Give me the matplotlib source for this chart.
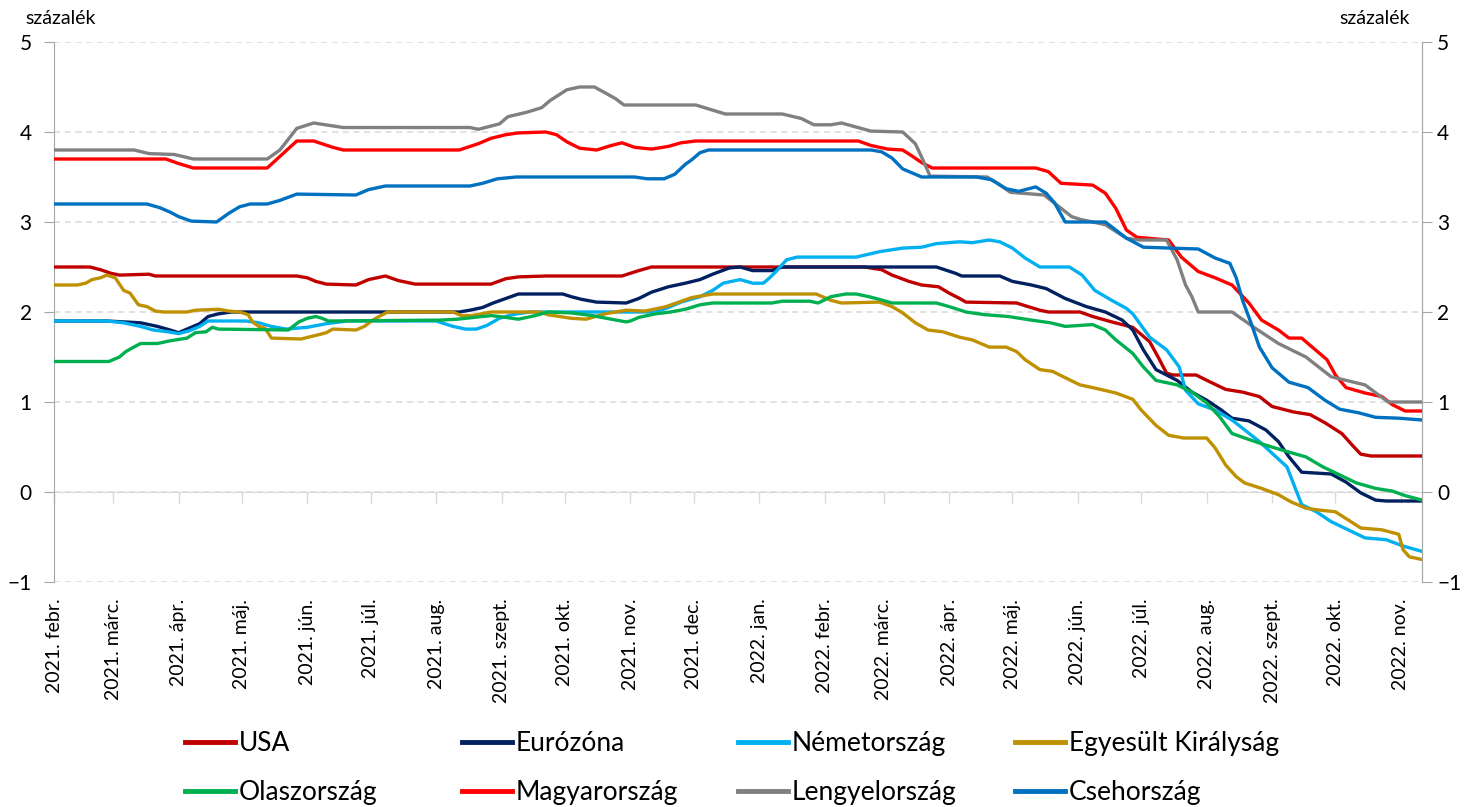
import matplotlib
matplotlib.use("Agg")
import matplotlib.pyplot as plt
import matplotlib.dates as mdates
from matplotlib.ticker import FuncFormatter, NullFormatter
import pandas as pd

plt.rcParams['font.family'] = ['Lato', 'DejaVu Sans']

# ---- data (percent) ----
usa = [("2021-02-01", 2.5), ("2021-02-18", 2.5), ("2021-02-23", 2.47), ("2021-02-28", 2.43),
       ("2021-03-04", 2.41), ("2021-03-18", 2.42), ("2021-03-21", 2.4), ("2021-05-27", 2.4),
       ("2021-06-01", 2.38), ("2021-06-05", 2.34), ("2021-06-10", 2.31), ("2021-06-24", 2.3),
       ("2021-06-30", 2.36), ("2021-07-08", 2.4), ("2021-07-14", 2.35), ("2021-07-22", 2.31),
       ("2021-08-27", 2.31), ("2021-09-03", 2.37), ("2021-09-09", 2.39), ("2021-09-22", 2.4),
       ("2021-10-28", 2.4), ("2021-11-05", 2.46), ("2021-11-11", 2.5), ("2022-02-20", 2.5),
       ("2022-02-28", 2.47), ("2022-03-05", 2.41), ("2022-03-13", 2.34), ("2022-03-19", 2.3),
       ("2022-03-27", 2.28), ("2022-04-01", 2.21), ("2022-04-06", 2.15), ("2022-04-09", 2.11),
       ("2022-05-03", 2.1), ("2022-05-07", 2.07), ("2022-05-14", 2.02), ("2022-05-18", 2.0),
       ("2022-06-02", 2.0), ("2022-06-08", 1.95), ("2022-06-17", 1.89), ("2022-06-27", 1.83),
       ("2022-07-05", 1.67), ("2022-07-09", 1.5), ("2022-07-13", 1.32), ("2022-07-16", 1.3),
       ("2022-07-27", 1.3), ("2022-08-02", 1.23), ("2022-08-10", 1.14), ("2022-08-18", 1.11),
       ("2022-08-26", 1.06), ("2022-09-01", 0.95), ("2022-09-11", 0.89), ("2022-09-19", 0.86),
       ("2022-09-26", 0.77), ("2022-10-04", 0.65), ("2022-10-09", 0.52), ("2022-10-13", 0.42),
       ("2022-10-18", 0.4), ("2022-11-11", 0.4)]

euro = [("2021-02-01", 1.9), ("2021-02-26", 1.9), ("2021-03-06", 1.89), ("2021-03-14", 1.88),
        ("2021-03-22", 1.84), ("2021-03-28", 1.8), ("2021-04-01", 1.77), ("2021-04-06", 1.82),
        ("2021-04-11", 1.87), ("2021-04-15", 1.95), ("2021-04-20", 1.98), ("2021-04-26", 2.0),
        ("2021-08-12", 2.0), ("2021-08-17", 2.02), ("2021-08-23", 2.05), ("2021-08-28", 2.1),
        ("2021-09-03", 2.15), ("2021-09-09", 2.2), ("2021-09-30", 2.2), ("2021-10-04", 2.17),
        ("2021-10-09", 2.14), ("2021-10-16", 2.11), ("2021-10-30", 2.1), ("2021-11-05", 2.15),
        ("2021-11-11", 2.22), ("2021-11-19", 2.28), ("2021-11-27", 2.32), ("2021-12-04", 2.36),
        ("2021-12-10", 2.42), ("2021-12-18", 2.49), ("2021-12-23", 2.5), ("2021-12-29", 2.46),
        ("2022-01-07", 2.46), ("2022-01-12", 2.5), ("2022-03-26", 2.5), ("2022-04-04", 2.43),
        ("2022-04-07", 2.4), ("2022-04-25", 2.4), ("2022-05-01", 2.34), ("2022-05-10", 2.3),
        ("2022-05-17", 2.26), ("2022-05-26", 2.15), ("2022-06-05", 2.06), ("2022-06-14", 2.0),
        ("2022-06-22", 1.91), ("2022-06-27", 1.8), ("2022-07-02", 1.58), ("2022-07-08", 1.36),
        ("2022-07-18", 1.24), ("2022-07-25", 1.11), ("2022-08-01", 1.02), ("2022-08-08", 0.91),
        ("2022-08-13", 0.82), ("2022-08-21", 0.79), ("2022-08-29", 0.69), ("2022-09-04", 0.56),
        ("2022-09-09", 0.39), ("2022-09-15", 0.22), ("2022-09-29", 0.2), ("2022-10-06", 0.11),
        ("2022-10-13", -0.01), ("2022-10-20", -0.09), ("2022-10-25", -0.1), ("2022-11-11", -0.1)]

germany = [("2021-02-01", 1.9), ("2021-02-26", 1.9), ("2021-03-06", 1.88), ("2021-03-14", 1.84),
           ("2021-03-20", 1.8), ("2021-03-27", 1.78), ("2021-04-01", 1.76), ("2021-04-06", 1.79),
           ("2021-04-11", 1.84), ("2021-04-15", 1.9), ("2021-05-03", 1.9), ("2021-05-09", 1.88),
           ("2021-05-15", 1.84), ("2021-05-22", 1.81), ("2021-06-01", 1.83), ("2021-06-10", 1.87),
           ("2021-06-20", 1.9), ("2021-08-01", 1.9), ("2021-08-09", 1.84), ("2021-08-15", 1.81),
           ("2021-08-20", 1.81), ("2021-08-25", 1.85), ("2021-08-31", 1.93), ("2021-09-06", 1.97),
           ("2021-09-14", 2.0), ("2021-11-13", 2.0), ("2021-11-19", 2.05), ("2021-11-25", 2.11),
           ("2021-12-04", 2.17), ("2021-12-10", 2.24), ("2021-12-15", 2.32), ("2021-12-23", 2.36),
           ("2021-12-29", 2.32), ("2022-01-03", 2.32), ("2022-01-06", 2.38), ("2022-01-09", 2.45),
           ("2022-01-14", 2.58), ("2022-01-19", 2.61), ("2022-02-16", 2.61), ("2022-02-27", 2.67),
           ("2022-03-10", 2.71), ("2022-03-19", 2.72), ("2022-03-26", 2.76), ("2022-04-06", 2.78),
           ("2022-04-12", 2.77), ("2022-04-20", 2.8), ("2022-04-25", 2.78), ("2022-05-01", 2.71),
           ("2022-05-07", 2.6), ("2022-05-14", 2.5), ("2022-05-28", 2.5), ("2022-06-03", 2.41),
           ("2022-06-09", 2.24), ("2022-06-17", 2.13), ("2022-06-24", 2.04), ("2022-06-27", 1.98),
           ("2022-07-05", 1.72), ("2022-07-13", 1.58), ("2022-07-19", 1.39), ("2022-07-22", 1.13),
           ("2022-07-28", 0.98), ("2022-08-05", 0.91), ("2022-08-13", 0.8), ("2022-08-19", 0.69),
           ("2022-08-26", 0.56), ("2022-09-01", 0.43), ("2022-09-08", 0.28), ("2022-09-11", 0.1),
           ("2022-09-15", -0.14), ("2022-09-22", -0.22), ("2022-09-29", -0.33), ("2022-10-07", -0.42),
           ("2022-10-15", -0.51), ("2022-10-25", -0.53), ("2022-11-02", -0.6), ("2022-11-11", -0.66)]

uk = [("2021-02-01", 2.3), ("2021-02-12", 2.3), ("2021-02-16", 2.32), ("2021-02-19", 2.36),
      ("2021-02-23", 2.38), ("2021-02-26", 2.41), ("2021-03-02", 2.38), ("2021-03-06", 2.24),
      ("2021-03-09", 2.21), ("2021-03-13", 2.08), ("2021-03-17", 2.06), ("2021-03-21", 2.01),
      ("2021-03-25", 2.0), ("2021-04-05", 2.0), ("2021-04-09", 2.02), ("2021-04-20", 2.03),
      ("2021-04-25", 2.01), ("2021-04-30", 2.0), ("2021-05-04", 1.97), ("2021-05-06", 1.89),
      ("2021-05-09", 1.84), ("2021-05-12", 1.82), ("2021-05-15", 1.71), ("2021-05-29", 1.7),
      ("2021-06-05", 1.74), ("2021-06-10", 1.77), ("2021-06-13", 1.81), ("2021-06-24", 1.8),
      ("2021-06-28", 1.84), ("2021-07-02", 1.91), ("2021-07-05", 1.95), ("2021-07-09", 2.0),
      ("2021-08-09", 2.0), ("2021-08-13", 1.96), ("2021-08-18", 1.96), ("2021-08-27", 2.0),
      ("2021-09-19", 2.0), ("2021-09-23", 1.97), ("2021-10-04", 1.93), ("2021-10-11", 1.92),
      ("2021-10-20", 1.98), ("2021-10-30", 2.02), ("2021-11-08", 2.01), ("2021-11-18", 2.06),
      ("2021-11-24", 2.11), ("2021-11-30", 2.16), ("2021-12-10", 2.2), ("2022-01-28", 2.2),
      ("2022-02-04", 2.13), ("2022-02-09", 2.1), ("2022-02-27", 2.11), ("2022-03-05", 2.06),
      ("2022-03-10", 1.99), ("2022-03-16", 1.88), ("2022-03-22", 1.8), ("2022-03-29", 1.78),
      ("2022-04-06", 1.72), ("2022-04-12", 1.69), ("2022-04-20", 1.61), ("2022-04-28", 1.61),
      ("2022-05-03", 1.56), ("2022-05-07", 1.47), ("2022-05-14", 1.36), ("2022-05-20", 1.34),
      ("2022-05-26", 1.27), ("2022-06-02", 1.19), ("2022-06-08", 1.16), ("2022-06-19", 1.1),
      ("2022-06-27", 1.03), ("2022-07-01", 0.91), ("2022-07-08", 0.74), ("2022-07-14", 0.63),
      ("2022-07-21", 0.6), ("2022-08-01", 0.6), ("2022-08-05", 0.49), ("2022-08-10", 0.3),
      ("2022-08-15", 0.17), ("2022-08-19", 0.1), ("2022-08-27", 0.04), ("2022-09-04", -0.03),
      ("2022-09-10", -0.11), ("2022-09-17", -0.18), ("2022-09-23", -0.2), ("2022-10-01", -0.22),
      ("2022-10-07", -0.31), ("2022-10-13", -0.4), ("2022-10-23", -0.42), ("2022-10-31", -0.47),
      ("2022-11-02", -0.64), ("2022-11-05", -0.72), ("2022-11-11", -0.75)]

italy = [("2021-02-01", 1.45), ("2021-02-27", 1.45), ("2021-03-04", 1.5), ("2021-03-07", 1.56),
         ("2021-03-10", 1.6), ("2021-03-14", 1.65), ("2021-03-22", 1.65), ("2021-03-28", 1.68),
         ("2021-04-05", 1.71), ("2021-04-09", 1.77), ("2021-04-14", 1.78), ("2021-04-17", 1.83),
         ("2021-04-20", 1.81), ("2021-05-23", 1.8), ("2021-05-28", 1.89), ("2021-06-01", 1.93),
         ("2021-06-05", 1.95), ("2021-06-08", 1.93), ("2021-06-11", 1.9), ("2021-08-03", 1.91),
         ("2021-08-11", 1.92), ("2021-08-27", 1.96), ("2021-09-03", 1.94), ("2021-09-09", 1.92),
         ("2021-09-17", 1.96), ("2021-09-23", 2.0), ("2021-10-04", 1.99), ("2021-10-14", 1.96),
         ("2021-10-23", 1.92), ("2021-10-30", 1.89), ("2021-11-01", 1.9), ("2021-11-05", 1.94),
         ("2021-11-13", 1.98), ("2021-11-20", 2.0), ("2021-11-27", 2.03), ("2021-12-04", 2.08),
         ("2021-12-10", 2.1), ("2022-01-07", 2.1), ("2022-01-12", 2.12), ("2022-01-25", 2.12),
         ("2022-01-29", 2.1), ("2022-02-04", 2.17), ("2022-02-11", 2.2), ("2022-02-16", 2.2),
         ("2022-02-22", 2.17), ("2022-02-27", 2.14), ("2022-03-05", 2.1), ("2022-03-26", 2.1),
         ("2022-04-01", 2.06), ("2022-04-09", 2.0), ("2022-04-18", 1.97), ("2022-04-29", 1.95),
         ("2022-05-10", 1.91), ("2022-05-19", 1.88), ("2022-05-26", 1.84), ("2022-06-08", 1.86),
         ("2022-06-14", 1.8), ("2022-06-19", 1.69), ("2022-06-27", 1.54), ("2022-07-02", 1.39),
         ("2022-07-08", 1.24), ("2022-07-18", 1.19), ("2022-07-25", 1.11), ("2022-08-01", 0.99),
         ("2022-08-07", 0.84), ("2022-08-13", 0.65), ("2022-08-19", 0.6), ("2022-08-29", 0.52),
         ("2022-09-08", 0.45), ("2022-09-17", 0.39), ("2022-09-25", 0.28), ("2022-10-03", 0.19),
         ("2022-10-11", 0.1), ("2022-10-20", 0.04), ("2022-10-28", 0.01), ("2022-11-03", -0.04),
         ("2022-11-11", -0.09)]

hungary = [("2021-02-01", 3.7), ("2021-03-26", 3.7), ("2021-04-01", 3.65), ("2021-04-08", 3.6),
           ("2021-05-13", 3.6), ("2021-05-20", 3.75), ("2021-05-27", 3.9), ("2021-06-04", 3.9),
           ("2021-06-13", 3.83), ("2021-06-18", 3.8), ("2021-08-12", 3.8), ("2021-08-21", 3.87),
           ("2021-08-27", 3.93), ("2021-09-03", 3.97), ("2021-09-09", 3.99), ("2021-09-22", 4.0),
           ("2021-09-27", 3.97), ("2021-10-02", 3.89), ("2021-10-08", 3.82), ("2021-10-16", 3.8),
           ("2021-10-23", 3.85), ("2021-10-28", 3.88), ("2021-11-03", 3.83), ("2021-11-11", 3.81),
           ("2021-11-19", 3.84), ("2021-11-25", 3.88), ("2021-12-02", 3.9), ("2022-02-17", 3.9),
           ("2022-02-23", 3.85), ("2022-03-03", 3.81), ("2022-03-10", 3.8), ("2022-03-14", 3.74),
           ("2022-03-19", 3.66), ("2022-03-24", 3.6), ("2022-05-12", 3.6), ("2022-05-18", 3.56),
           ("2022-05-24", 3.43), ("2022-06-08", 3.41), ("2022-06-14", 3.32), ("2022-06-19", 3.15),
           ("2022-06-24", 2.91), ("2022-06-29", 2.83), ("2022-07-14", 2.8), ("2022-07-20", 2.61),
           ("2022-07-28", 2.45), ("2022-08-05", 2.38), ("2022-08-13", 2.3), ("2022-08-21", 2.1),
           ("2022-08-27", 1.91), ("2022-09-04", 1.8), ("2022-09-09", 1.71), ("2022-09-15", 1.71),
           ("2022-09-20", 1.61), ("2022-09-27", 1.47), ("2022-10-01", 1.3), ("2022-10-06", 1.16),
           ("2022-10-15", 1.1), ("2022-10-23", 1.06), ("2022-10-28", 0.97), ("2022-11-03", 0.9),
           ("2022-11-11", 0.9)]

poland = [("2021-02-01", 3.8), ("2021-03-11", 3.8), ("2021-03-18", 3.76), ("2021-03-30", 3.75),
          ("2021-04-08", 3.7), ("2021-05-13", 3.7), ("2021-05-19", 3.8), ("2021-05-27", 4.04),
          ("2021-06-04", 4.1), ("2021-06-18", 4.05), ("2021-08-17", 4.05), ("2021-08-21", 4.03),
          ("2021-08-31", 4.09), ("2021-09-04", 4.17), ("2021-09-13", 4.22), ("2021-09-20", 4.27),
          ("2021-09-24", 4.35), ("2021-10-02", 4.47), ("2021-10-08", 4.5), ("2021-10-15", 4.5),
          ("2021-10-22", 4.41), ("2021-10-25", 4.37), ("2021-10-29", 4.3), ("2021-12-02", 4.3),
          ("2021-12-09", 4.25), ("2021-12-16", 4.2), ("2022-01-12", 4.2), ("2022-01-21", 4.15),
          ("2022-01-27", 4.08), ("2022-02-04", 4.08), ("2022-02-09", 4.1), ("2022-02-23", 4.01),
          ("2022-03-10", 4.0), ("2022-03-16", 3.87), ("2022-03-19", 3.72), ("2022-03-23", 3.51),
          ("2022-04-19", 3.5), ("2022-04-24", 3.43), ("2022-04-30", 3.33), ("2022-05-16", 3.3),
          ("2022-05-22", 3.19), ("2022-05-29", 3.06), ("2022-06-02", 3.03), ("2022-06-14", 2.97),
          ("2022-06-24", 2.82), ("2022-06-30", 2.8), ("2022-07-13", 2.8), ("2022-07-18", 2.58),
          ("2022-07-22", 2.3), ("2022-07-25", 2.17), ("2022-07-28", 2.0), ("2022-08-13", 2.0),
          ("2022-08-24", 1.82), ("2022-09-04", 1.65), ("2022-09-17", 1.5), ("2022-09-29", 1.28),
          ("2022-10-15", 1.19), ("2022-10-26", 1.0), ("2022-11-11", 1.0)]

czech = [("2021-02-01", 3.2), ("2021-03-17", 3.2), ("2021-03-23", 3.16), ("2021-03-28", 3.11),
         ("2021-04-01", 3.06), ("2021-04-07", 3.01), ("2021-04-19", 3.0), ("2021-04-25", 3.1),
         ("2021-04-30", 3.17), ("2021-05-05", 3.2), ("2021-05-13", 3.2), ("2021-05-19", 3.24),
         ("2021-05-27", 3.31), ("2021-06-24", 3.3), ("2021-06-30", 3.36), ("2021-07-08", 3.4),
         ("2021-08-17", 3.4), ("2021-08-23", 3.43), ("2021-08-30", 3.48), ("2021-09-08", 3.5),
         ("2021-11-03", 3.5), ("2021-11-09", 3.48), ("2021-11-17", 3.48), ("2021-11-22", 3.53),
         ("2021-11-27", 3.64), ("2021-11-30", 3.69), ("2021-12-04", 3.77), ("2021-12-08", 3.8),
         ("2022-02-23", 3.8), ("2022-02-28", 3.78), ("2022-03-05", 3.71), ("2022-03-10", 3.59),
         ("2022-03-16", 3.53), ("2022-03-19", 3.5), ("2022-04-14", 3.5), ("2022-04-21", 3.47),
         ("2022-04-28", 3.37), ("2022-05-04", 3.34), ("2022-05-12", 3.39), ("2022-05-17", 3.32),
         ("2022-05-21", 3.21), ("2022-05-26", 3.0), ("2022-06-14", 3.0), ("2022-06-24", 2.82),
         ("2022-07-02", 2.72), ("2022-07-28", 2.7), ("2022-08-05", 2.6), ("2022-08-12", 2.54),
         ("2022-08-15", 2.38), ("2022-08-18", 2.13), ("2022-08-22", 1.88), ("2022-08-26", 1.61),
         ("2022-09-01", 1.38), ("2022-09-09", 1.22), ("2022-09-18", 1.16), ("2022-09-26", 1.02),
         ("2022-10-03", 0.92), ("2022-10-12", 0.88), ("2022-10-20", 0.83), ("2022-10-31", 0.82),
         ("2022-11-11", 0.8)]

names = ["USA", "Eurózóna", "Németország", "Egyesült Királyság",
         "Olaszország", "Magyarország", "Lengyelország", "Csehország"]
colors = ["#C00000", "#002060", "#00B0F0", "#BF9000",
          "#00B050", "#FF0000", "#808080", "#0070C0"]
series = [usa, euro, germany, uk, italy, hungary, poland, czech]

month_hu = ["jan.", "febr.", "márc.", "ápr.", "máj.", "jún.",
            "júl.", "aug.", "szept.", "okt.", "nov.", "dec."]

W, H = 1464, 807
fig = plt.figure(figsize=(W / 100, H / 100), dpi=100)
ax = fig.add_axes([54 / W, 1 - 582 / H, (1422 - 54) / W, 540 / H])

lines = []
for name, col, data in zip(names, colors, series):
    d = pd.to_datetime([p[0] for p in data])
    v = [p[1] for p in data]
    ln, = ax.plot(d, v, color=col, lw=2.4, label=name, zorder=3)
    lines.append(ln)

ax.set_xlim(pd.Timestamp("2021-02-01"), pd.Timestamp("2022-11-11"))
ax.set_ylim(-1, 5)
ax.set_yticks(range(-1, 6))
ax.grid(axis='y', color='#D9D9D9', linestyle=(0, (4, 3)), lw=1.1, zorder=0)

for s in ['top', 'bottom']:
    ax.spines[s].set_visible(False)
for s in ['left', 'right']:
    ax.spines[s].set_color('#A6A6A6')
ax.tick_params(axis='y', left=True, right=False, labelleft=True, labelright=False,
               direction='out', length=7, color='#A6A6A6', labelsize=15, pad=9)

# right-hand axis: same scale, labels closer to the spine
axr = ax.twinx()
axr.set_ylim(ax.get_ylim())
axr.set_yticks(range(-1, 6))
for s in ['top', 'bottom', 'left']:
    axr.spines[s].set_visible(False)
axr.spines['right'].set_color('#A6A6A6')
axr.tick_params(axis='y', direction='out', length=7, color='#A6A6A6', labelsize=15, pad=4)

ax.xaxis.set_major_locator(mdates.MonthLocator())
ax.xaxis.set_major_formatter(FuncFormatter(
    lambda x, pos: "%d. %s" % (mdates.num2date(x).year, month_hu[mdates.num2date(x).month - 1])))
ax.tick_params(axis='x', length=0, pad=12, labelsize=14)
for lab in ax.get_xticklabels():
    lab.set_rotation(90)

# zero line with month tick marks
sec = ax.secondary_xaxis(1 / 6)
sec.xaxis.set_major_locator(mdates.MonthLocator())
sec.xaxis.set_major_formatter(NullFormatter())
sec.tick_params(direction='out', length=8, color='#D9D9D9', width=1)
sec.spines['bottom'].set_color('#D9D9D9')

fig.text(25 / W, 1 - 18 / H, "százalék", ha='left', va='center', fontsize=14)
fig.text(1410 / W, 1 - 18 / H, "százalék", ha='right', va='center', fontsize=14)

col_x = [185, 462, 738, 1015]
for i in range(4):
    leg = fig.legend(handles=[lines[i], lines[i + 4]], loc='upper left',
                     bbox_to_anchor=(col_x[i] / W, 1 - 731 / H), frameon=False,
                     fontsize=19, handlelength=1.9, handletextpad=0.15,
                     labelspacing=0.9, borderpad=0, borderaxespad=0)
    for l in leg.get_lines():
        l.set_linewidth(3.5)

fig.savefig("out.png", dpi=100)
